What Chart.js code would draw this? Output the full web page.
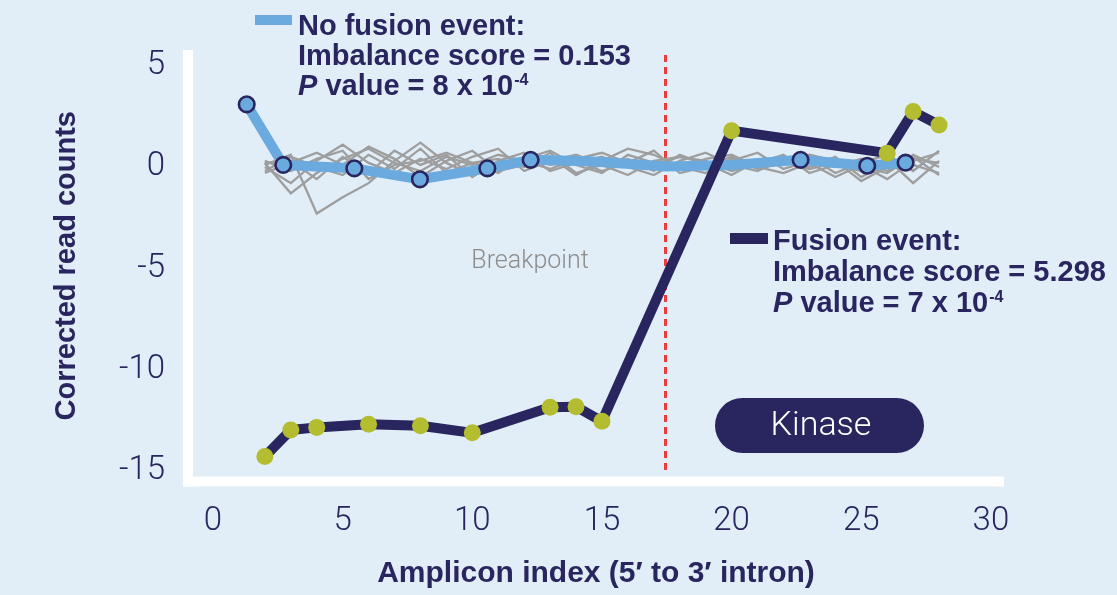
<!DOCTYPE html>
<html><head><meta charset="utf-8">
<script src="https://cdn.jsdelivr.net/npm/chart.js@4"></script>
<style>html,body{margin:0;padding:0;background:#e1eef8;overflow:hidden}canvas{display:block}</style>
</head><body>
<canvas id="c" width="1117" height="595"></canvas>
<script>
// ---- data ----
const xTicks = [0, 5, 10, 15, 20, 25, 30];
const yTicks = [-15, -10, -5, 0, 5];
const fusionX = [2, 3, 4, 6, 8, 10, 13, 14, 15, 20, 26, 27, 28];
const fusionY = [-14.29, -12.98, -12.85, -12.7, -12.77, -13.12, -11.86, -11.83, -12.55, 1.79, 0.68, 2.73, 2.07];
const noFusionX = [1.3, 2.71, 5.45, 7.98, 10.58, 12.25, 14.5, 17.5, 20, 22.66, 25.23, 26.71];
const noFusionY = [3.09, 0.1, -0.07, -0.61, -0.07, 0.35, 0.28, 0.02, 0.1, 0.35, 0.06, 0.21];
const markerX = [1.3, 2.71, 5.45, 7.98, 10.58, 12.25, 22.66, 25.23, 26.71];
const markerY = [3.09, 0.1, -0.07, -0.61, -0.07, 0.35, 0.35, 0.06, 0.21];
const grayX = [2,3,4,5,6,7,8,9,10,11,12,13,14,15,16,17,18,19,20,21,22,23,24,25,26,27,28];
const gray1 = [0.2,-1.3,-0.3,0.4,0.9,0.2,-0.2,0.5,0.1,0.6,0.3,-0.1,0.4,0.7,0.2,0.1,0.5,0.3,-0.2,0.1,0.3,-0.1,0.2,0.0,-0.3,0.5,-0.4];
const gray2 = [0.1,0.6,-2.3,-1.5,-0.8,0.3,1.2,0.2,-0.4,0.2,0.4,0.8,0.1,-0.3,0.6,0.2,-0.1,0.4,0.6,0.0,-0.3,0.2,-0.5,0.1,-0.6,0.3,0.7];
const gray3 = [-0.3,0.2,0.7,0.1,1.0,0.4,-0.5,0.3,0.8,-0.2,0.1,0.5,-0.4,0.3,0.9,0.6,0.0,-0.3,0.4,0.2,0.6,-0.3,0.1,-0.2,0.4,-0.8,0.3];
const gray4 = [0.0,-0.8,0.3,1.1,0.2,-0.3,0.4,-0.1,0.5,0.9,-0.2,0.3,0.6,0.1,-0.4,0.3,0.5,0.2,-0.4,0.3,0.1,0.5,-0.3,0.2,0.6,-0.2,0.8];
const gray5 = [0.2,0.3,-0.6,0.5,-0.3,0.8,0.1,0.6,-0.5,0.3,0.7,-0.2,0.2,0.5,0.0,-0.4,0.3,0.7,0.1,-0.2,0.4,0.0,0.5,-0.5,0.2,0.1,-0.3];
const gray6 = [-0.2,0.5,0.0,-0.4,0.6,-0.1,0.9,-0.3,0.2,0.4,0.0,0.7,-0.3,0.1,0.4,-0.2,0.6,0.1,0.3,0.7,-0.1,0.3,0.0,0.4,-0.2,0.6,0.0];
const gray7 = [0.3,-0.2,0.4,0.8,-0.6,0.1,0.3,0.7,0.2,-0.3,0.5,0.1,0.3,-0.2,0.2,0.8,-0.3,0.0,0.5,-0.1,0.2,0.6,0.3,-0.7,0.0,0.4,0.2];
const grayRuns = [gray1, gray2, gray3, gray4, gray5, gray6, gray7];
const breakpointX = 17.45;
const breakpointY = [-14.95, 5.77];

// ---- styles ----
const BG = '#e1eef8', NAVY = '#29255f', LIGHT = '#6aaadf', GREEN = '#b4bd30', GRAY = '#9e9e9e', RED = '#ef3b3b';
const pts = (xs, ys) => xs.map((x, i) => ({x, y: ys[i]}));

const datasets = [
  { data: pts(fusionX, fusionY), borderColor: NAVY, borderWidth: 10, pointRadius: 8.5,
    pointBackgroundColor: GREEN, pointBorderWidth: 0, borderJoinStyle: 'round', order: 0 },
  { data: pts(markerX, markerY), showLine: false, pointRadius: 7.8, pointBorderWidth: 2.6,
    pointBackgroundColor: LIGHT, pointBorderColor: NAVY, order: 1 },
  { data: pts(noFusionX, noFusionY), borderColor: LIGHT, borderWidth: 10, pointRadius: 0,
    borderJoinStyle: 'round', order: 2 },
];
grayRuns.forEach((g, i) => datasets.push({ data: pts(grayX, g), borderColor: GRAY, borderWidth: 2.3,
  pointRadius: 0, order: 3 + i }));
datasets.push({ data: breakpointY.map(y => ({x: breakpointX, y})), borderColor: RED, borderWidth: 3,
  borderDash: [7, 5], pointRadius: 0, order: 20 });

function drawLegend(ctx, x, bases, l1, l2, pval) {
  const F = '"Liberation Sans", Arial, sans-serif';
  ctx.fillStyle = NAVY; ctx.textAlign = 'left'; ctx.textBaseline = 'alphabetic';
  ctx.font = 'bold 29px ' + F;
  ctx.fillText(l1, x, bases[0]);
  ctx.fillText(l2, x, bases[1]);
  ctx.font = 'italic bold 29px ' + F;
  ctx.fillText('P', x, bases[2]);
  let w = ctx.measureText('P').width;
  ctx.font = 'bold 29px ' + F;
  const s = ' value = ' + pval + ' x 10';
  ctx.fillText(s, x + w, bases[2]);
  w += ctx.measureText(s).width;
  ctx.font = 'bold 16px ' + F;
  ctx.fillText('-4', x + w + 1, bases[2] - 10);
}

const bgPlugin = {
  id: 'bg',
  beforeDraw(chart) {
    const ctx = chart.ctx; ctx.save(); ctx.fillStyle = BG;
    ctx.fillRect(0, 0, chart.width, chart.height); ctx.restore();
  },
  beforeDatasetsDraw(chart) {
    const {ctx, chartArea: a} = chart;
    ctx.save(); ctx.fillStyle = '#ffffff';
    ctx.fillRect(a.left - 5, a.top, 10, a.bottom + 5 - a.top);
    ctx.fillRect(a.left - 5, a.bottom - 5, a.right - a.left + 5, 10);
    ctx.restore();
  },
  afterDraw(chart) {
    const ctx = chart.ctx; ctx.save();
    ctx.fillStyle = LIGHT; ctx.fillRect(255, 15, 37, 10);
    drawLegend(ctx, 298, [35, 65, 95], 'No fusion event:', 'Imbalance score = 0.153', '8');
    ctx.fillStyle = NAVY; ctx.fillRect(730, 233, 38, 11);
    drawLegend(ctx, 773, [250, 281, 311.5], 'Fusion event:', 'Imbalance score = 5.298', '7');
    // Breakpoint label
    ctx.fillStyle = '#8c8c8c'; ctx.font = '300 25px Roboto, sans-serif';
    ctx.textAlign = 'center'; ctx.textBaseline = 'middle';
    ctx.fillText('Breakpoint', 530, 262);
    // Kinase pill
    ctx.fillStyle = NAVY; ctx.beginPath(); ctx.roundRect(715, 398, 209, 55, 27.5); ctx.fill();
    ctx.fillStyle = '#ffffff'; ctx.font = '300 34px Roboto, sans-serif';
    ctx.fillText('Kinase', 821, 426);
    ctx.restore();
  }
};

new Chart(document.getElementById('c'), {
  type: 'line',
  data: { datasets },
  plugins: [bgPlugin],
  options: {
    responsive: false, animation: false, devicePixelRatio: 1,
    layout: { padding: { top: 50, right: 113, left: 0, bottom: 0 } },
    plugins: { legend: { display: false }, tooltip: { enabled: false } },
    elements: { line: { tension: 0, fill: false } },
    scales: {
      x: {
        type: 'linear', min: -0.964, max: 30.505,
        grid: { display: false, drawTicks: false }, border: { display: false },
        afterBuildTicks: s => { s.ticks = xTicks.map(v => ({value: v})); },
        afterFit: s => { s.height = 113.5; },
        ticks: { color: NAVY, font: { family: 'Roboto', weight: 300, size: 33 }, padding: 20, maxRotation: 0, autoSkip: false },
        title: { display: true, text: 'Amplicon index (5\u2032 to 3\u2032 intron)', color: NAVY,
          font: { family: '"Liberation Sans", Arial', weight: 'bold', size: 30 }, padding: { top: 0, bottom: 3 } }
      },
      y: {
        type: 'linear', min: -15.52, max: 5.77,
        grid: { display: false, drawTicks: false }, border: { display: false },
        afterBuildTicks: s => { s.ticks = yTicks.map(v => ({value: v})); },
        afterFit: s => { s.width = 188; },
        ticks: { color: NAVY, font: { family: 'Roboto', weight: 300, size: 33 }, padding: 23, autoSkip: false },
        title: { display: true, text: 'Corrected read counts', color: NAVY,
          font: { family: '"Liberation Sans", Arial', weight: 'bold', size: 29 }, padding: { top: 50, bottom: 0 } }
      }
    }
  }
});
</script>
</body></html>
